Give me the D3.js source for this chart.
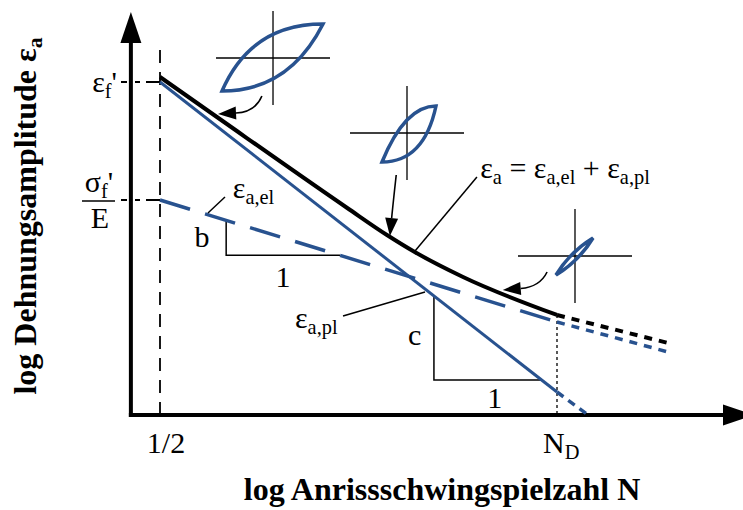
<!DOCTYPE html>
<html>
<head>
<meta charset="utf-8">
<script src="https://cdn.jsdelivr.net/npm/d3@7"></script>
<style>
  html, body { margin: 0; padding: 0; background: #fff; }
  svg { display: block; font-family: "Liberation Serif", "Times New Roman", Times, serif; }
</style>
</head>
<body>
<svg id="chart" width="743" height="510"></svg>
<script>
// Strain-life (ε–N) curve on log–log axes:
// elastic part (Basquin, slope b), plastic part (Coffin–Manson, slope c)
// and the total strain amplitude as their sum.

// x: log of cycles to crack initiation (0 = 1/2 cycle, 6 = N_D)
// y: log of strain amplitude
const xTickValues = [0, 6];
const xTickLabels = [["1/2"], ["N", "D"]];
const yTickValues = [-0.67, -1.85];   // ε_f'  and  σ_f'/E

// elastic strain amplitude ε_a,el (dashed) and its extension past N_D
const elasticLogN   = [0, 6];
const elasticLogEps = [-1.85, -3.07];
const elasticExtLogN   = [6, 7.68];
const elasticExtLogEps = [-3.07, -3.37];

// plastic strain amplitude ε_a,pl and its extension past N_D
const plasticLogN   = [0, 6];
const plasticLogEps = [-0.67, -3.77];
const plasticExtLogN   = [6, 6.45];
const plasticExtLogEps = [-3.77, -3.99];

// total strain amplitude ε_a = ε_a,el + ε_a,pl
const totalLogN   = [0, 0.86, 2.83, 3.43, 3.85, 4.58, 6.0];
const totalLogEps = [-0.62, -1.02, -1.93, -2.20, -2.37, -2.62, -3.00];
const totalExtLogN   = [6, 7.68];
const totalExtLogEps = [-3.00, -3.28];

const BLUE = "#28528f";
const svg = d3.select("#chart");

const x = d3.scaleLinear().domain([0, 6]).range([160, 557]);
const y = d3.scaleLinear().domain([-4, 0]).range([415, 15]);

const zip = (a, b) => a.map((v, i) => [v, b[i]]);
const straight = d3.line().x(d => x(d[0])).y(d => y(d[1]));
const smooth = d3.line().x(d => x(d[0])).y(d => y(d[1])).curve(d3.curveMonotoneX);

// value of a straight log-log line at a given log N
const elasticAt = d3.scaleLinear().domain(elasticLogN).range(elasticLogEps);
const plasticAt = d3.scaleLinear().domain(plasticLogN).range(plasticLogEps);

// text with subscripts: parts = [[string, isSub], ...]
function rich(g, parts, o) {
  const t = g.append("text")
    .attr("x", o.x).attr("y", o.y)
    .attr("font-size", o.size)
    .attr("font-weight", o.weight || "normal")
    .attr("text-anchor", o.anchor || "start")
    .attr("fill", "#000");
  if (o.transform) t.attr("transform", o.transform);
  let shift = 0;
  parts.forEach(([s, sub]) => {
    const target = sub ? o.size * 0.2 : 0;
    t.append("tspan")
      .attr("dy", target - shift)
      .attr("font-size", sub ? o.size * 0.68 : o.size)
      .text(s);
    shift = target;
  });
  return t;
}

function arrowHead(g, from, tip, len, half) {
  const dx = tip[0] - from[0], dy = tip[1] - from[1];
  const L = Math.hypot(dx, dy), ux = dx / L, uy = dy / L;
  const bx = tip[0] - ux * len, by = tip[1] - uy * len;
  g.append("path")
    .attr("d", `M${tip[0]},${tip[1]}L${bx - uy * half},${by + ux * half}L${bx + uy * half},${by - ux * half}Z`)
    .attr("fill", "#000");
  return [bx, by];
}

const g = svg.append("g");

// ---- axes ----
const x0 = x(-0.44);          // axis origin
const yBase = y(-4);
g.append("line").attr("x1", x0).attr("y1", yBase + 2).attr("x2", x0).attr("y2", 40)
  .attr("stroke", "#000").attr("stroke-width", 4);
arrowHead(g, [x0, 100], [x0, 12], 31, 10.5);
g.append("line").attr("x1", x0 - 2).attr("y1", yBase).attr("x2", 726).attr("y2", yBase)
  .attr("stroke", "#000").attr("stroke-width", 4);
arrowHead(g, [600, yBase], [754, yBase], 31, 10.5);

// vertical reference at N = 1/2
g.append("line")
  .attr("x1", x(xTickValues[0])).attr("x2", x(xTickValues[0]))
  .attr("y1", yBase).attr("y2", 49)
  .attr("stroke", "#000").attr("stroke-width", 1.8).attr("stroke-dasharray", "13,9");

// horizontal ticks for ε_f' and σ_f'/E
yTickValues.forEach(v => {
  g.append("line")
    .attr("x1", 121).attr("x2", x(0)).attr("y1", y(v)).attr("y2", y(v))
    .attr("stroke", "#000").attr("stroke-width", 1.8)
    .attr("stroke-dasharray", "6,8,5,6,14");
});

// vertical dotted line at N_D
g.append("line")
  .attr("x1", x(xTickValues[1])).attr("x2", x(xTickValues[1]))
  .attr("y1", y(totalLogEps[totalLogEps.length - 1])).attr("y2", yBase)
  .attr("stroke", "#000").attr("stroke-width", 1.3).attr("stroke-dasharray", "3,3");

// ---- slope triangles ----
function slopeTriangle(at, xa, xb) {
  g.append("path")
    .attr("d", `M${x(xa)},${y(at(xa))}V${y(at(xb))}H${x(xb)}`)
    .attr("fill", "none").attr("stroke", "#000").attr("stroke-width", 1.5);
}
slopeTriangle(elasticAt, 1.0, 2.72);
slopeTriangle(plasticAt, 4.14, 5.77);

// ---- strain lines ----
g.append("path").datum(zip(elasticLogN, elasticLogEps)).attr("d", straight)
  .attr("fill", "none").attr("stroke", BLUE).attr("stroke-width", 3.5)
  .attr("stroke-dasharray", "31.4,15.7");
g.append("path").datum(zip(elasticExtLogN, elasticExtLogEps)).attr("d", straight)
  .attr("fill", "none").attr("stroke", BLUE).attr("stroke-width", 3.5)
  .attr("stroke-dasharray", "8,7");

g.append("path").datum(zip(plasticLogN, plasticLogEps)).attr("d", straight)
  .attr("fill", "none").attr("stroke", BLUE).attr("stroke-width", 3);
g.append("path").datum(zip(plasticExtLogN, plasticExtLogEps)).attr("d", straight)
  .attr("fill", "none").attr("stroke", BLUE).attr("stroke-width", 3.5)
  .attr("stroke-dasharray", "8,6");

g.append("path").datum(zip(totalLogN, totalLogEps)).attr("d", smooth)
  .attr("fill", "none").attr("stroke", "#000").attr("stroke-width", 4);
g.append("path").datum(zip(totalExtLogN, totalExtLogEps)).attr("d", straight)
  .attr("fill", "none").attr("stroke", "#000").attr("stroke-width", 4)
  .attr("stroke-dasharray", "8,7");

// ---- hysteresis loop icons ----
const loops = [
  { at: [1.708, -0.43], a: [-51, 33], b: [50, -34], up: [-22, -34], lo: [16, 33] },
  { at: [3.733, -1.18], a: [-25, 29], b: [29, -27], up: [-2, -27], lo: [17, 29] },
  { at: [6.272, -2.41], a: [-19, 19], b: [18, -18], up: [-5, -4], lo: [4, 5] }
];
loops.forEach(L => {
  const cx = x(L.at[0]), cy = y(L.at[1]);
  const lg = g.append("g").attr("transform", `translate(${cx},${cy})`);
  lg.append("line").attr("x1", -57).attr("x2", 57).attr("y1", 0).attr("y2", 0)
    .attr("stroke", "#000").attr("stroke-width", 1.3);
  lg.append("line").attr("x1", 0).attr("x2", 0).attr("y1", -47).attr("y2", 47)
    .attr("stroke", "#000").attr("stroke-width", 1.3);
  lg.append("path")
    .attr("d", `M${L.a}Q${L.up} ${L.b}Q${L.lo} ${L.a}Z`)
    .attr("fill", "none").attr("stroke", BLUE).attr("stroke-width", 3.5)
    .attr("stroke-linejoin", "miter");
});

// ---- arrows from the loops to the total curve ----
const arrows = [
  { s: [1.54, -0.81], c: [1.44, -0.97], t: [0.877, -0.99] },
  { s: [3.57, -1.60], c: [3.52, -1.90], t: [3.475, -2.21] },
  { s: [5.85, -2.57], c: [5.74, -2.72], t: [5.18, -2.75] }
];
arrows.forEach(A => {
  const S = [x(A.s[0]), y(A.s[1])], C = [x(A.c[0]), y(A.c[1])], T = [x(A.t[0]), y(A.t[1])];
  const B = arrowHead(g, C, T, 18, 6.5);
  g.append("path").attr("d", `M${S}Q${C} ${B}`)
    .attr("fill", "none").attr("stroke", "#000").attr("stroke-width", 1.6);
});

// ---- leader lines ----
const leaders = [
  [[0.725, -1.98], [0.982, -1.82]],
  [[2.766, -3.01], [4.005, -2.77]],
  [[3.854, -2.36], [4.79, -1.62]]
];
leaders.forEach(([p, q]) => {
  g.append("line").attr("x1", x(p[0])).attr("y1", y(p[1])).attr("x2", x(q[0])).attr("y2", y(q[1]))
    .attr("stroke", "#000").attr("stroke-width", 1.5);
});

// ---- labels ----
const FS = 30;
rich(g, [["ε", 0], ["a,el", 1]], { x: x(1.10), y: y(-1.83), size: FS });
rich(g, [["ε", 0], ["a,pl", 1]], { x: x(2.04), y: y(-3.13), size: FS });
rich(g, [["ε", 0], ["a", 1], [" = ε", 0], ["a,el", 1], [" + ε", 0], ["a,pl", 1]],
  { x: x(4.84), y: y(-1.63), size: FS });

rich(g, [["b", 0]], { x: x(0.635), y: y(-2.32), size: FS, anchor: "middle" });
rich(g, [["1", 0]], { x: x(1.86), y: y(-2.72), size: FS, anchor: "middle" });
rich(g, [["c", 0]], { x: x(3.85), y: y(-3.30), size: FS, anchor: "middle" });
rich(g, [["1", 0]], { x: x(5.06), y: y(-3.93), size: FS, anchor: "middle" });

// y tick labels
rich(g, [["ε", 0], ["f", 1], ["'", 0]], { x: 117, y: y(yTickValues[0]) + 10, size: FS, anchor: "end" });
rich(g, [["σ", 0], ["f", 1], ["'", 0]], { x: 99, y: y(yTickValues[1]) - 8, size: FS, anchor: "middle" });
g.append("line").attr("x1", 82).attr("x2", 115)
  .attr("y1", y(yTickValues[1]) + 1).attr("y2", y(yTickValues[1]) + 1)
  .attr("stroke", "#000").attr("stroke-width", 1.3);
rich(g, [["E", 0]], { x: 100, y: y(yTickValues[1]) + 28, size: FS, anchor: "middle" });

// x tick labels
rich(g, [[xTickLabels[0][0], 0]], { x: x(xTickValues[0]) + 6, y: 453, size: FS, anchor: "middle" });
rich(g, [[xTickLabels[1][0], 0], [xTickLabels[1][1], 1]], { x: x(xTickValues[1]) - 14, y: 453, size: FS });

// axis titles
rich(g, [["log Anrissschwingspielzahl N", 0]], { x: 442, y: 500, size: 32, weight: "bold", anchor: "middle" });
rich(g, [["log Dehnungsamplitude ε", 0], ["a", 1]],
  { x: 0, y: 0, size: 32, weight: "bold", anchor: "middle", transform: "translate(36,216) rotate(-90)" });
</script>
</body>
</html>
